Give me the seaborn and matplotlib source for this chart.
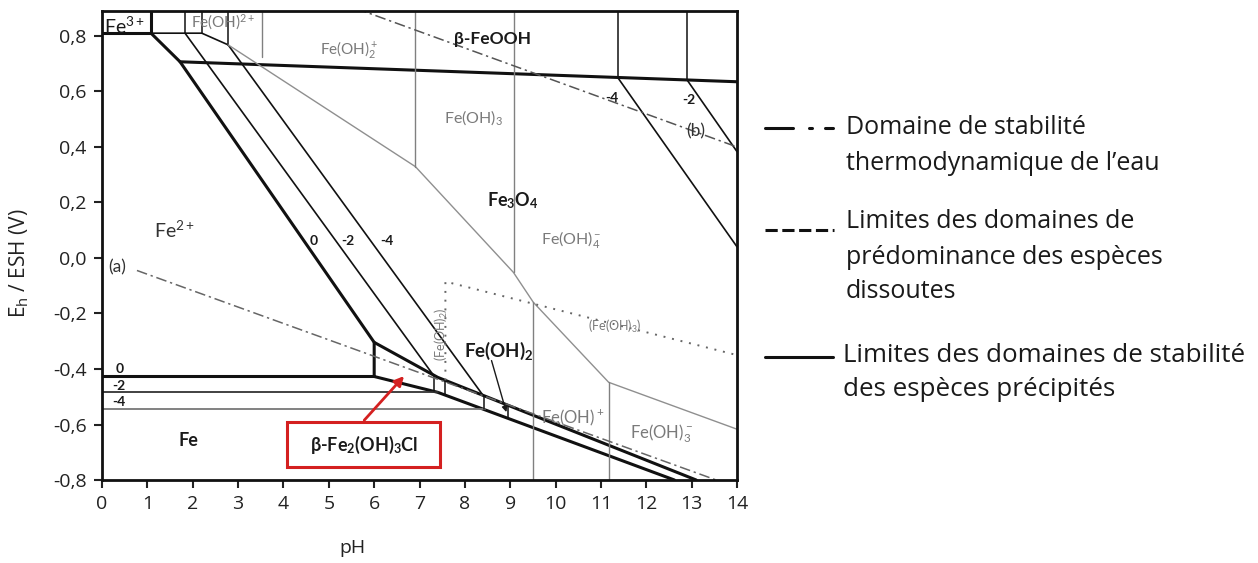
import numpy as np
import matplotlib.pyplot as plt
from matplotlib.lines import Line2D
from matplotlib.patches import Rectangle
import seaborn as sns

# --- boundaries (pH, E in V/ESH) ---
# thick lines : stability of precipitated species, activity 10^0
line0_x = [1.08, 1.72, 6.0, 6.0]
line0_y = [0.81, 0.707, -0.304, -0.427]
feooh_x = [1.72, 14.0]
feooh_y = [0.707, 0.635]
fe0_x = [0.0, 6.0]
fe0_y = [-0.427, -0.427]
upper_x = [6.0, 7.4, 13.1]
upper_y = [-0.304, -0.43, -0.80]
lower_x = [6.0, 7.4, 12.62]
lower_y = [-0.427, -0.484, -0.80]
top_x = [0.0, 1.08]
top_y = [0.81, 0.81]

# thin black lines : activities 10^-2 and 10^-4
top2_x = [1.08, 2.2, 2.78]
top2_y = [0.81, 0.81, 0.768]
m2_left_x = [1.83, 7.3]
m2_left_y = [0.81, -0.421]
m4_left_x = [2.78, 8.4]
m4_left_y = [0.768, -0.495]
m4_right_x = [11.37, 14.0]
m4_right_y = [0.65, 0.04]
m2_right_x = [12.9, 14.0]
m2_right_y = [0.641, 0.383]
fe_m2_x = [0.0, 7.4]
fe_m2_y = [-0.484, -0.484]
fe_m4_x = [0.0, 8.45]
fe_m4_y = [-0.545, -0.545]
top_vert_x = [1.08, 1.83, 2.2, 2.78, 11.37, 12.9]
top_vert_y = [0.81, 0.81, 0.81, 0.768, 0.65, 0.641]
fe2_vert_x = [7.31, 7.57, 8.41, 8.94]

# grey lines : predominance of dissolved species
grey_x = [2.78, 6.91, 9.07, 9.51, 11.17, 14.0]
grey_y = [0.768, 0.329, -0.052, -0.16, -0.448, -0.617]
grey_up_x = [3.53, 6.91, 9.08]
grey_up_y = [0.725, 0.329, -0.052]
grey_dn_x = [9.51, 11.17]
grey_dn_y = [-0.16, -0.448]

# dotted : (Fe(OH)2) / (Fe(OH)3)
dot_x = [7.57, 7.57, 14.0]
dot_y = [-0.441, -0.085, -0.35]

# water stability lines (a) and (b)
wa_x = [0.77, 13.54]
wa_y = [-0.045, -0.80]
wb_x = [5.6, 14.0]
wb_y = [0.899, 0.40]

YTOP = 0.89

sns.set_style("ticks")
plt.rcParams['font.family'] = ['Lato', 'DejaVu Sans']
plt.rcParams['mathtext.fontset'] = 'custom'
plt.rcParams['mathtext.rm'] = 'Lato'
plt.rcParams['mathtext.bf'] = 'Lato:bold'
plt.rcParams['mathtext.it'] = 'Lato:italic'
OS = ['Open Sans', 'DejaVu Sans']

fig = plt.figure(figsize=(12.58, 5.63), dpi=100)
ax = fig.add_axes([0.0811, 0.1474, 0.5048, 0.8331])


def seg(x, y, color='#111111', lw=1.2, ls='-'):
    sns.lineplot(x=x, y=y, sort=False, estimator=None, ax=ax,
                 color=color, lw=lw, linestyle=ls)


# thick
for xs, ys in [(line0_x, line0_y), (feooh_x, feooh_y), (fe0_x, fe0_y),
               (upper_x, upper_y), (lower_x, lower_y), (top_x, top_y)]:
    seg(xs, ys, lw=2.2)
seg([1.08, 1.08], [0.81, YTOP], lw=2.2)

# thin black
for xs, ys in [(top2_x, top2_y), (m2_left_x, m2_left_y), (m4_left_x, m4_left_y),
               (m4_right_x, m4_right_y), (m2_right_x, m2_right_y)]:
    seg(xs, ys, lw=1.2)
seg(fe_m2_x, fe_m2_y, color='#333333', lw=1.3)
seg(fe_m4_x, fe_m4_y, color='#777777', lw=1.3)
for xv, yv in zip(top_vert_x[1:], top_vert_y[1:]):
    seg([xv, xv], [yv, YTOP], lw=1.1)
for xv in fe2_vert_x:
    seg([xv, xv], [np.interp(xv, upper_x, upper_y), np.interp(xv, lower_x, lower_y)], lw=1.1)

# grey
seg(grey_x, grey_y, color='#8f8f8f', lw=1.0)
for xv, yv in zip(grey_up_x, grey_up_y):
    seg([xv, xv], [yv, YTOP], color='#808080', lw=1.0)
for xv, yv in zip(grey_dn_x, grey_dn_y):
    seg([xv, xv], [yv, -0.8], color='#808080', lw=1.0)

# dotted
seg(dot_x, dot_y, color='#666666', lw=1.4, ls=(0, (1, 3.5)))

# water lines
dd = (0, (7, 2.5, 1.5, 2.5))
seg(wa_x, wa_y, color='#666666', lw=1.1, ls=dd)
seg(wb_x, wb_y, color='#555555', lw=1.1, ls=dd)

# labels in the diagram
G = '#7a7a7a'
K = '#1a1a1a'
labels = [
    (0.5, 0.835, r"Fe$^{3+}$", K, 14, 'normal'),
    (2.67, 0.848, r"Fe(OH)$^{2+}$", G, 11, 'normal'),
    (5.45, 0.752, r"Fe(OH)$_2^+$", G, 11, 'normal'),
    (8.6, 0.79, r"β-FeOOH", K, 12.5, 'bold'),
    (11.25, 0.578, "-4", K, 10, 'bold'),
    (12.94, 0.57, "-2", K, 10, 'bold'),
    (13.1, 0.457, "(b)", '#333333', 12.5, 'normal'),
    (8.2, 0.505, r"Fe(OH)$_3$", G, 11.5, 'normal'),
    (9.05, 0.205, r"Fe$_\mathbf{3}$O$_\mathbf{4}$", K, 13, 'bold'),
    (10.35, 0.065, r"Fe(OH)$_4^-$", G, 11.5, 'normal'),
    (1.6, 0.10, r"Fe$^{2+}$", '#333333', 14, 'normal'),
    (4.66, 0.06, "0", K, 10, 'bold'),
    (5.42, 0.06, "-2", K, 10, 'bold'),
    (6.28, 0.06, "-4", K, 10, 'bold'),
    (0.33, -0.035, "(a)", '#333333', 12.5, 'normal'),
    (11.3, -0.245, r"(Fe(OH)$_3$)", G, 9, 'normal'),
    (8.75, -0.335, r"Fe(OH)$_\mathbf{2}$", K, 13.5, 'bold'),
    (10.37, -0.575, r"Fe(OH)$^+$", G, 12, 'normal'),
    (12.33, -0.635, r"Fe(OH)$_3^-$", G, 12, 'normal'),
    (1.9, -0.657, "Fe", K, 13, 'bold'),
    (0.38, -0.40, "0", K, 10, 'bold'),
    (0.38, -0.46, "-2", K, 10, 'bold'),
    (0.38, -0.518, "-4", K, 10, 'bold'),
]
for x, y, s, c, fs, fw in labels:
    ax.text(x, y, s, color=c, fontsize=fs, fontweight=fw, ha='center', va='center')
ax.text(7.48, -0.275, r"(Fe(OH)$_2$)", color=G, fontsize=9, rotation=90,
        ha='center', va='center')

# pointer towards the Fe(OH)2 domains
ax.annotate("", xy=(8.93, -0.565), xytext=(8.57, -0.36),
            arrowprops=dict(arrowstyle='-|>', color=K, lw=1.0, mutation_scale=8))

# red box for beta-Fe2(OH)3Cl
ax.add_patch(Rectangle((4.08, -0.754), 3.38, 0.162, facecolor='white',
                       edgecolor='#d42020', lw=2.2, zorder=5))
ax.text(5.77, -0.673, r"β-Fe$_\mathbf{2}$(OH)$_\mathbf{3}$Cl", color=K, fontsize=13,
        fontweight='bold', ha='center', va='center', zorder=6)
ax.annotate("", xy=(6.7, -0.418), xytext=(5.74, -0.592),
            arrowprops=dict(arrowstyle='-|>', color='#d42020', lw=2.0, mutation_scale=14),
            zorder=6)

# axes
ax.set_xlim(0, 14)
ax.set_ylim(-0.8, YTOP)
ax.set_xticks(range(0, 15))
yt = [-0.8, -0.6, -0.4, -0.2, 0.0, 0.2, 0.4, 0.6, 0.8]
ax.set_yticks(yt)
ax.set_yticklabels([f"{v:.1f}".replace('.', ',').replace('-0,0', '0,0') for v in yt])
ax.tick_params(axis='both', direction='out', length=6, width=1.5,
               colors='#222222', pad=5)
for lab in ax.get_xticklabels() + ax.get_yticklabels():
    lab.set_family(OS)
    lab.set_fontsize(14)
for sp in ax.spines.values():
    sp.set_linewidth(2.0)
    sp.set_color('#111111')
    sp.set_visible(True)
ax.set_xlabel("pH", fontsize=14, color='#222222', family=OS)
ax.set_ylabel(r"E$_\mathregular{h}$ / ESH (V)", fontsize=15, color='#222222', family=OS)
ax.xaxis.set_label_coords(0.394, -0.125)
ax.yaxis.set_label_coords(-0.112, 0.463)

# legend drawn on the figure
H = 563.0
W = 1258.0


def fx(px):
    return px / W


def fy(py):
    return 1 - py / H


leg_entries = [
    (128, ["Domaine de stabilité", "thermodynamique de l’eau"], 846, 18),
    (222, ["Limites des domaines de", "prédominance des espèces", "dissoutes"], 846, 18),
    (355, ["Limites des domaines de stabilité", "des espèces précipités"], 843, 18.7),
]
for y0, lines, tx, fs in leg_entries:
    for i, s in enumerate(lines):
        fig.text(fx(tx), fy(y0 + 35 * i), s, fontsize=fs, color='#1a1a1a',
                 ha='left', va='center', family=OS)

fig.add_artist(Line2D([fx(765), fx(793)], [fy(128), fy(128)], color='#111111', lw=2.2))
fig.add_artist(Line2D([fx(809), fx(812)], [fy(128), fy(128)], color='#111111', lw=2.2))
fig.add_artist(Line2D([fx(825), fx(833)], [fy(128), fy(128)], color='#111111', lw=2.2))
fig.add_artist(Line2D([fx(765), fx(834)], [fy(230), fy(230)], color='#111111', lw=2.2,
                      ls=(0, (4, 1.5))))
fig.add_artist(Line2D([fx(765), fx(833)], [fy(357), fy(357)], color='#111111', lw=2.2))

fig.savefig("out.png", dpi=100)
